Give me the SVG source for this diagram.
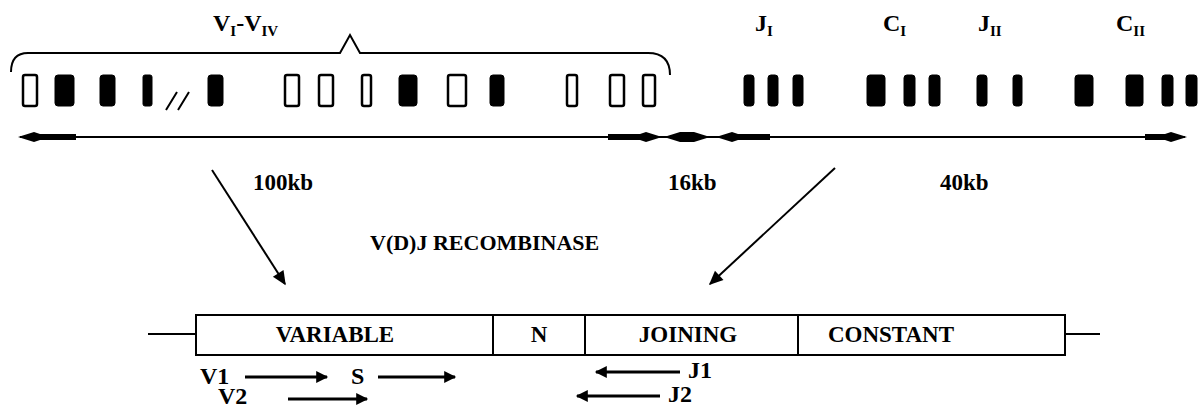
<svg xmlns="http://www.w3.org/2000/svg" width="1198" height="409" viewBox="0 0 1198 409">
<defs>
<style>
text{font-family:"Liberation Serif","Times New Roman",serif;font-weight:bold;fill:#000}
.lbl{font-size:23px}
.top{font-size:24px}
.sub{font-size:15px}
.pr{font-size:24px}
.box{fill:#fff;stroke:#000;stroke-width:2}
.open{fill:#fff;stroke:#000;stroke-width:2.5}
.fill{fill:#000;stroke:#000;stroke-width:1}
.ln{stroke:#000;stroke-width:2;fill:none}
.pa{stroke:#000;stroke-width:3;fill:none}
</style>
<marker id="ah" viewBox="0 0 10 10" refX="9" refY="5" markerWidth="8" markerHeight="7" orient="auto-start-reverse" markerUnits="strokeWidth">
<path d="M0,0.5 L10,5 L0,9.5 z" fill="#000"/>
</marker>
<marker id="sh" viewBox="0 0 10 10" refX="9" refY="5" markerWidth="5" markerHeight="4" orient="auto-start-reverse" markerUnits="strokeWidth">
<path d="M0,0 L10,5 L0,10 z" fill="#000"/>
</marker>
</defs>
<rect width="1198" height="409" fill="#fff"/>

<g id="labels-top">
<text class="top" x="213" y="31">V<tspan class="sub" dy="5">I</tspan><tspan dy="-5">-V</tspan><tspan class="sub" dy="5">IV</tspan></text>
<text class="top" x="755" y="31">J<tspan class="sub" dy="5">I</tspan></text>
<text class="top" x="883" y="31">C<tspan class="sub" dy="5">I</tspan></text>
<text class="top" x="978" y="31">J<tspan class="sub" dy="5">II</tspan></text>
<text class="top" x="1116" y="31">C<tspan class="sub" dy="5">II</tspan></text>
</g>

<g id="brace">
<path class="ln" d="M11,72 Q11,53 28,53 L340,53 L350,35 L360,53 L648,53 Q670,53 670,75"/>
</g>

<g id="segments">
<rect class="open" x="23" y="75" width="14" height="31" rx="2"/>
<rect class="fill" x="55" y="75" width="19" height="31" rx="3"/>
<rect class="fill" x="100" y="75" width="15" height="31" rx="3"/>
<rect class="fill" x="143" y="75" width="9" height="31" rx="2"/>
<path class="ln" d="M166,110 L177,92 M178,110 L189,92" stroke-width="2.5"/>
<rect class="fill" x="208" y="75" width="15" height="31" rx="3"/>
<rect class="open" x="285" y="75" width="14" height="31" rx="2"/>
<rect class="open" x="319" y="75" width="14" height="31" rx="2"/>
<rect class="open" x="362" y="75" width="9" height="31" rx="2"/>
<rect class="fill" x="399" y="75" width="18" height="31" rx="3"/>
<rect class="open" x="448" y="75" width="18" height="31" rx="2"/>
<rect class="fill" x="490" y="75" width="14" height="31" rx="3"/>
<rect class="open" x="567" y="75" width="10" height="31" rx="2"/>
<rect class="open" x="610" y="75" width="14" height="31" rx="2"/>
<rect class="open" x="643" y="75" width="12" height="31" rx="2"/>
<rect class="fill" x="744" y="75" width="10" height="31" rx="3"/>
<rect class="fill" x="768" y="75" width="10" height="31" rx="3"/>
<rect class="fill" x="793" y="75" width="10" height="31" rx="3"/>
<rect class="fill" x="867" y="75" width="18" height="31" rx="3"/>
<rect class="fill" x="904" y="75" width="11" height="31" rx="3"/>
<rect class="fill" x="929" y="75" width="11" height="31" rx="3"/>
<rect class="fill" x="977" y="75" width="10" height="31" rx="3"/>
<rect class="fill" x="1013" y="75" width="9" height="31" rx="3"/>
<rect class="fill" x="1075" y="75" width="18" height="31" rx="3"/>
<rect class="fill" x="1126" y="75" width="17" height="31" rx="3"/>
<rect class="fill" x="1162" y="75" width="11" height="31" rx="3"/>
<rect class="fill" x="1186" y="75" width="11" height="31" rx="3"/>
</g>

<g id="scale">
<line class="ln" x1="20" y1="137" x2="1185" y2="137"/>
<path d="M18,137 L34,132 L40,134 L76,134 L76,140 L40,140 L34,142 z" fill="#000"/>
<path d="M662,137 L646,132 L640,134 L608,134 L608,140 L640,140 L646,142 z" fill="#000"/>
<path d="M664,137 L680,132 L694,132 L710,137 L694,142 L680,142 z" fill="#000"/>
<path d="M716,137 L732,132 L738,134 L770,134 L770,140 L738,140 L732,142 z" fill="#000"/>
<path d="M1187,137 L1171,132 L1165,134 L1145,134 L1145,140 L1165,140 L1171,142 z" fill="#000"/>
<text class="lbl" x="253" y="190">100kb</text>
<text class="lbl" x="668" y="190">16kb</text>
<text class="lbl" x="940" y="190">40kb</text>
</g>

<g id="connectors">
<line class="ln" x1="212" y1="170" x2="285" y2="284" marker-end="url(#ah)"/>
<line class="ln" x1="835" y1="168" x2="710" y2="284" marker-end="url(#ah)"/>
</g>

<text x="370" y="250" font-size="22">V(D)J  RECOMBINASE</text>

<g id="transcript">
<line class="ln" x1="148" y1="334" x2="196" y2="334"/>
<line class="ln" x1="1065" y1="334" x2="1100" y2="334"/>
<rect class="box" x="196" y="315" width="297" height="40"/>
<rect class="box" x="493" y="315" width="92" height="40"/>
<rect class="box" x="585" y="315" width="213" height="40"/>
<rect class="box" x="798" y="315" width="267" height="40"/>
<text class="lbl" x="335" y="342" text-anchor="middle">VARIABLE</text>
<text class="lbl" x="539" y="342" text-anchor="middle">N</text>
<text class="lbl" x="688" y="342" text-anchor="middle">JOINING</text>
<text class="lbl" x="891" y="342" text-anchor="middle">CONSTANT</text>
</g>

<g id="primers">
<text class="pr" x="200" y="384">V1</text>
<line class="pa" x1="245" y1="377" x2="327" y2="377" marker-end="url(#sh)"/>
<text class="pr" x="351" y="384">S</text>
<line class="pa" x1="378" y1="377" x2="455" y2="377" marker-end="url(#sh)"/>
<text class="pr" x="218" y="404">V2</text>
<line class="pa" x1="288" y1="399" x2="367" y2="399" marker-end="url(#sh)"/>
<line class="pa" x1="680" y1="372" x2="596" y2="372" marker-end="url(#sh)"/>
<text class="pr" x="688" y="378">J1</text>
<line class="pa" x1="660" y1="396" x2="577" y2="396" marker-end="url(#sh)"/>
<text class="pr" x="668" y="402">J2</text>
</g>
</svg>
